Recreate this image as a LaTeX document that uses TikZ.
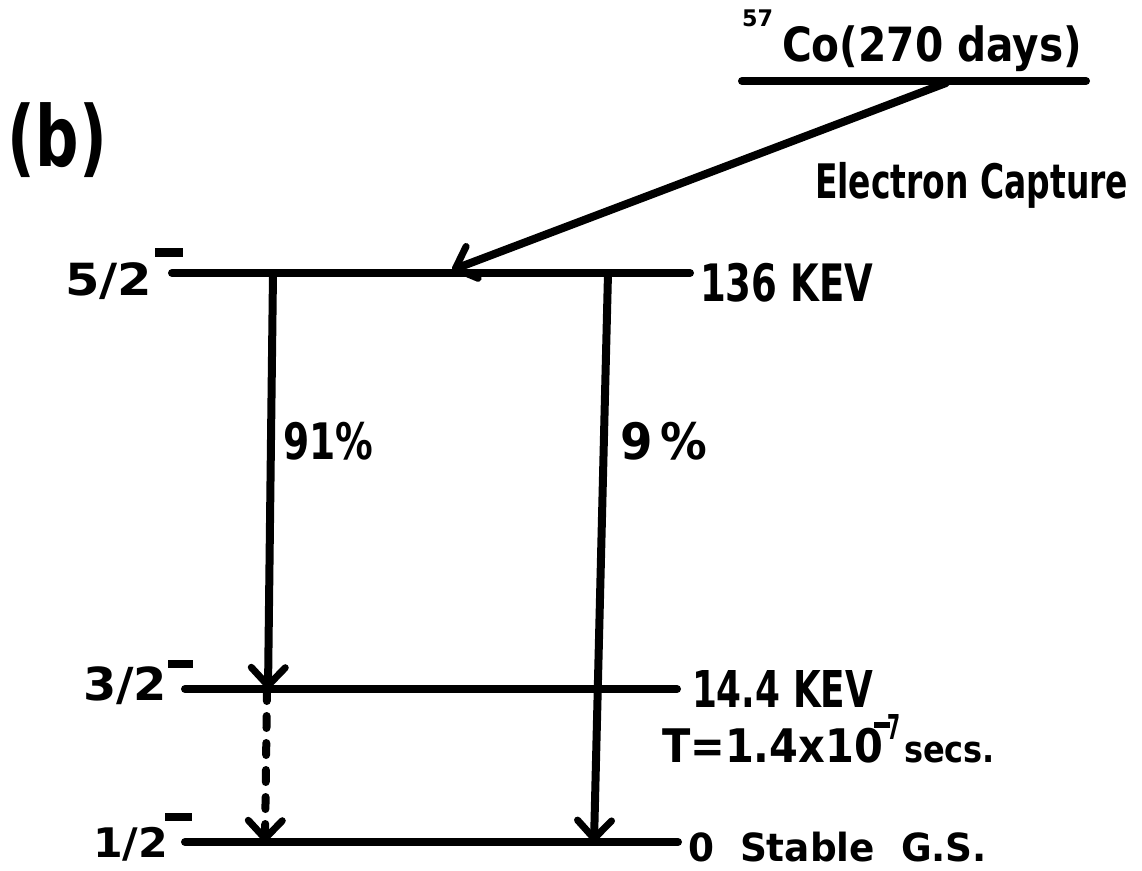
\documentclass[tikz,border=0pt]{standalone}
\usepackage{fontspec}
\setmainfont{DejaVu Sans}
\usepackage{graphicx}
\usetikzlibrary{arrows.meta}
\newcommand\fitt[3]{\resizebox*{#1pt}{#2pt}{\bfseries #3}}
\tikzset{
  lab/.style={inner sep=0pt, outer sep=0pt, anchor=south west},
  level/.style={line width=8pt, line cap=round},
  trans/.style={line width=8pt, line cap=round,
    -{Straight Barb[length=18pt,width=34pt,line width=7pt,round]}},
  weak/.style={trans, dash pattern=on 12pt off 15pt}
}
\begin{document}
\begin{tikzpicture}[x=1pt,y=-1pt]
\path[use as bounding box] (0,0) rectangle (1142,870);
% texts
\node[lab] (b) at (8,178) {\fitt{99}{75}{(b)}};
\node[lab] (a57) at (742,27) {\fitt{31}{17}{57}};
\node[lab] (co) at (782,72) {\fitt{300}{46}{Co(270 days)}};
\node[lab] (ec) at (815,208) {\fitt{313}{46}{Electron Capture}};
\node[lab] (e136) at (700,302) {\fitt{173}{39}{136 KEV}};
\node[lab] (s52) at (65,300) {\fitt{87}{37}{5/2}};
\node[lab] (m52) at (155,257) {\fitt{28}{9}{\rule{1em}{0.3em}}};
\node[lab] (s32) at (83,705) {\fitt{84}{38}{3/2}};
\node[lab] (m32) at (168,668) {\fitt{25}{8}{\rule{1em}{0.3em}}};
\node[lab] (s12) at (93,861) {\fitt{75}{34}{1/2}};
\node[lab] (m12) at (165,821) {\fitt{27}{8}{\rule{1em}{0.3em}}};
\node[lab] (p91) at (283,460) {\fitt{90}{38}{91\%}};
\node[lab] (p9) at (620,460) {\fitt{87}{38}{9\,\%}};
\node[lab] (e14) at (692,707) {\fitt{181}{37}{14.4 KEV}};
\node[lab] (tt) at (662,763) {\fitt{221}{35}{T=1.4x10}};
\node[lab] (tm) at (874,728) {\fitt{16}{6}{\rule{1em}{0.3em}}};
\node[lab] (t7) at (887,739) {\fitt{13}{25}{7}};
\node[lab] (secs) at (904,763) {\fitt{91}{21}{secs.}};
\node[lab] (e0) at (688,862) {\fitt{299}{30}{0 \ Stable \ G.S.}};
% levels
\coordinate (L5a) at (172,273); \coordinate (L5b) at (690,273);
\coordinate (L3a) at (185,689); \coordinate (L3b) at (677,689);
\coordinate (L1a) at (185,842); \coordinate (L1b) at (678,842);
\coordinate (C1) at (742,81);  \coordinate (C2) at (1086,81);
\draw[level] (L5a) -- (L5b);
\draw[level] (L3a) -- (L3b);
\draw[level] (L1a) -- (L1b);
\draw[level] (C1) -- (C2);
% transitions
\coordinate (capS) at (946,83);
\coordinate (capE) at (452,270);
\draw[trans] (capS) -- (capE);
\coordinate (t1s) at (273,273); \coordinate (t1e) at (268,689);
\coordinate (t2s) at (608,273); \coordinate (t2e) at (594,842);
\coordinate (t3s) at (267,689); \coordinate (t3e) at (265,842);
\draw[trans] (t1s) -- (t1e);
\draw[trans] (t2s) -- (t2e);
\draw[weak] (t3s) -- (t3e);
\end{tikzpicture}
\end{document}
